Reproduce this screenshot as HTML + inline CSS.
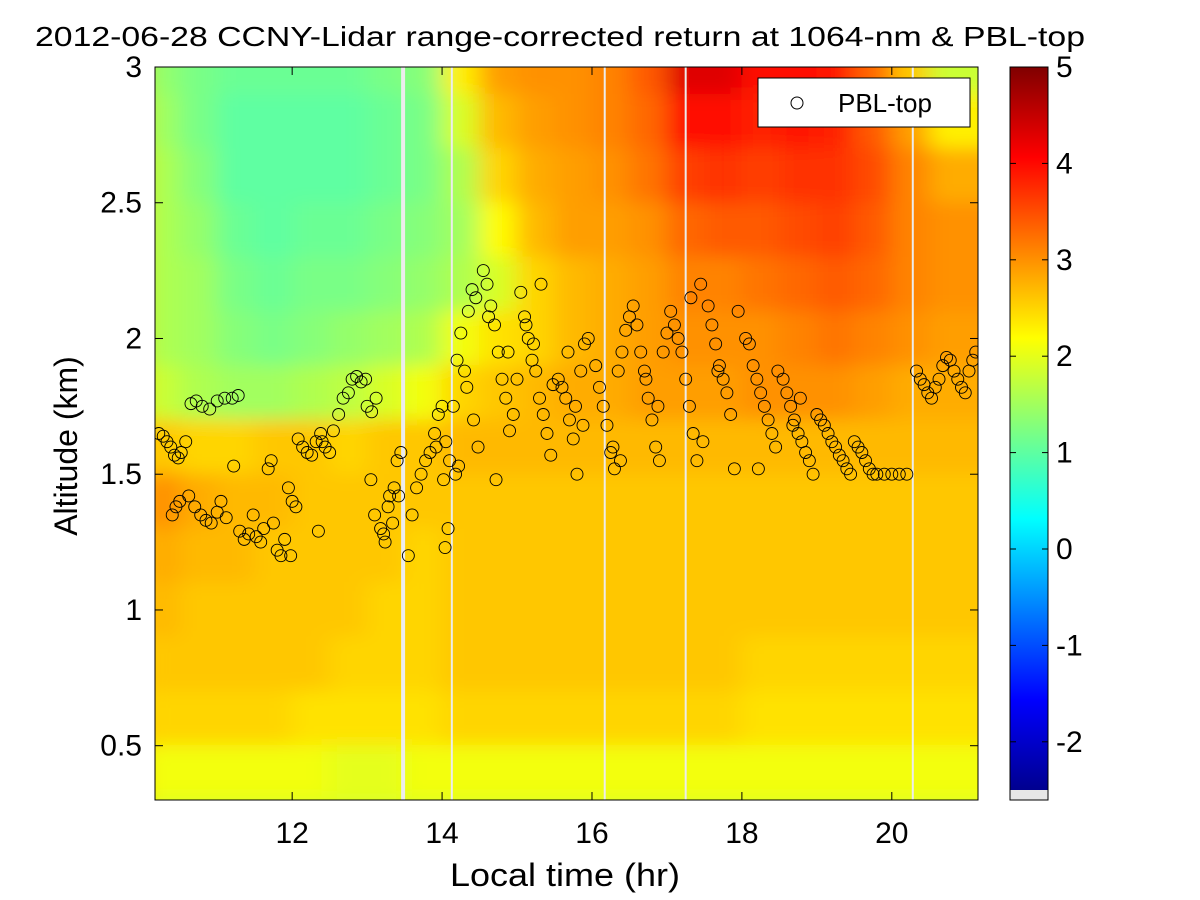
<!DOCTYPE html>
<html><head><meta charset="utf-8"><style>
html,body{margin:0;padding:0;background:#fff;}
svg{display:block;font-family:"Liberation Sans",Arial,sans-serif;}
</style></head><body>
<svg id="chart" width="1200" height="900" viewBox="0 0 1200 900">
<defs>
<clipPath id="plotclip"><rect x="155" y="67" width="823" height="733"/></clipPath>
<filter id="blur" x="-5%" y="-5%" width="110%" height="110%"><feGaussianBlur stdDeviation="12 9"/></filter>
<linearGradient id="jet" x1="0" y1="1" x2="0" y2="0">
<stop offset="0" stop-color="#00008f"/><stop offset="0.125" stop-color="#0000ff"/><stop offset="0.375" stop-color="#00ffff"/><stop offset="0.625" stop-color="#ffff00"/><stop offset="0.875" stop-color="#ff0000"/><stop offset="1" stop-color="#800000"/>
</linearGradient>
</defs>
<text x="35" y="46" font-size="28" textLength="1050" lengthAdjust="spacingAndGlyphs">2012-06-28 CCNY-Lidar range-corrected return at 1064-nm &amp; PBL-top</text>
<g clip-path="url(#plotclip)"><rect x="155" y="67" width="823" height="733" fill="#ffcc00"/><g id="heat" filter="url(#blur)"></g><g id="gaps"></g></g>
<g id="pbl" clip-path="url(#plotclip)"></g>
<rect x="155" y="67" width="823" height="733" fill="none" stroke="#000" stroke-width="1"/>
<g id="axes"></g>
<text x="450" y="886" font-size="32" textLength="230" lengthAdjust="spacingAndGlyphs">Local time (hr)</text>
<text transform="translate(77,446) rotate(-90)" font-size="32" text-anchor="middle">Altitude (km)</text>
<g>
<rect x="758" y="78" width="212" height="49" fill="#fff" stroke="#000"/>
<circle cx="797" cy="103" r="6" fill="none" stroke="#000"/>
<text x="838" y="112" font-size="26">PBL-top</text>
</g>
<g>
<rect x="1010" y="67" width="38" height="723" fill="url(#jet)"/>
<rect x="1010" y="790" width="38" height="10" fill="#e6e6e6"/>
<rect x="1010" y="67" width="38" height="733" fill="none" stroke="#000"/>
<g id="cbticks"></g>
</g>
</svg>
<script>
const xMin=10.17, xMax=21.15, yMin=0.3, yMax=3.0;
const cMin=-2.5, cMax=5;
const xTicks=[12,14,16,18,20];
const yTicks=[0.5,1,1.5,2,2.5,3];
const cTicks=[-2,-1,0,1,2,3,4,5];
const colTimes=[10.25,10.75,11.25,11.75,12.25,12.75,13.25,13.75,14.25,14.75,15.25,15.75,16.25,16.75,17.25,17.75,18.25,18.75,19.25,19.75,20.25,20.75,21.25];
const rowAlts=[3.0,2.8,2.6,2.4,2.2,2.0,1.8,1.6,1.4,1.2,1.0,0.8,0.6,0.4,0.2];
const heatRows=[
[1.4,1.2,1.1,1.1,1.1,1.1,1.2,1.3,2.3,2.9,3.0,3.0,3.1,3.4,4.3,4.3,4.0,4.0,3.9,3.3,2.6,1.8,1.8],
[1.5,1.2,1.0,1.0,1.0,1.0,1.1,1.2,1.9,2.7,2.9,3.0,3.1,3.3,4.0,4.0,3.8,3.9,3.8,3.4,2.9,2.3,2.3],
[1.6,1.3,1.0,1.0,1.0,1.0,1.1,1.2,1.6,2.5,2.8,2.9,3.0,3.2,3.6,3.7,3.6,3.7,3.7,3.5,3.1,2.8,2.8],
[1.6,1.4,1.1,1.0,1.1,1.1,1.2,1.3,1.5,2.2,2.7,2.9,2.9,3.0,3.3,3.4,3.4,3.5,3.6,3.4,3.1,3.0,3.0],
[1.6,1.5,1.2,1.1,1.2,1.2,1.3,1.4,1.6,1.9,2.5,2.7,2.8,2.9,3.1,3.1,3.2,3.3,3.4,3.3,3.1,3.0,3.0],
[1.6,1.5,1.3,1.2,1.3,1.4,1.5,1.6,2.1,2.4,2.5,2.7,2.8,2.9,3.0,3.0,3.0,3.1,3.2,3.1,3.0,2.9,2.9],
[1.8,1.6,1.5,1.5,1.6,1.7,1.9,2.1,2.5,2.6,2.7,2.8,2.8,2.9,2.9,2.9,3.0,3.0,3.0,2.9,2.8,2.8,2.8],
[2.6,2.5,2.5,2.6,2.6,2.5,2.6,2.6,2.7,2.7,2.7,2.7,2.7,2.7,2.7,2.7,2.7,2.7,2.7,2.7,2.7,2.7,2.7],
[3.0,2.8,2.7,2.7,2.6,2.6,2.6,2.6,2.6,2.6,2.6,2.6,2.6,2.6,2.6,2.6,2.6,2.6,2.6,2.6,2.6,2.6,2.6],
[2.8,2.7,2.7,2.6,2.6,2.6,2.6,2.5,2.6,2.6,2.6,2.6,2.6,2.6,2.6,2.6,2.6,2.6,2.6,2.6,2.6,2.6,2.6],
[2.7,2.6,2.6,2.6,2.6,2.6,2.5,2.5,2.6,2.6,2.6,2.6,2.6,2.6,2.6,2.6,2.6,2.6,2.6,2.6,2.6,2.6,2.6],
[2.6,2.6,2.6,2.6,2.6,2.5,2.5,2.5,2.6,2.6,2.6,2.6,2.6,2.6,2.6,2.6,2.5,2.5,2.5,2.5,2.5,2.5,2.5],
[2.5,2.5,2.5,2.5,2.4,2.4,2.4,2.4,2.5,2.5,2.5,2.5,2.5,2.5,2.5,2.5,2.4,2.4,2.4,2.4,2.4,2.4,2.4],
[2.1,2.1,2.1,2.1,2.1,2.0,2.0,2.1,2.1,2.1,2.1,2.1,2.1,2.1,2.1,2.1,2.1,2.1,2.1,2.1,2.1,2.1,2.1],
[1.9,1.9,1.9,1.9,1.9,1.9,1.9,1.9,1.9,1.9,1.9,1.9,1.9,1.9,1.9,1.9,1.9,1.9,1.9,1.9,1.9,1.9,1.9]
];
const gapTimes=[13.48,14.13,16.17,17.25,20.28];
const pblTime=[10.22,10.28,10.33,10.38,10.43,10.48,10.52,10.58,10.40,10.45,10.50,
10.65,10.72,10.80,10.90,11.00,11.10,10.62,10.70,10.78,10.85,10.92,11.00,11.05,11.12,
11.20,11.28,11.22,11.30,11.36,11.42,11.48,
11.52,11.58,11.62,11.68,11.72,11.75,11.80,11.85,11.90,11.95,12.00,12.05,11.98,
12.08,12.14,12.20,12.26,12.32,12.38,12.44,12.50,12.40,12.35,
12.55,12.62,12.68,12.75,12.80,12.86,12.92,12.98,
13.00,13.06,13.12,13.05,13.10,13.18,13.24,13.30,13.36,13.40,13.45,13.28,13.34,13.22,13.42,
13.55,13.60,13.66,13.72,13.78,13.84,13.90,13.95,14.00,14.05,14.10,14.02,13.92,14.08,14.04,
14.15,14.20,14.25,14.30,14.35,14.40,14.45,14.33,14.42,14.22,14.18,14.48,
14.55,14.60,14.65,14.70,14.75,14.80,14.85,14.90,14.95,14.72,14.62,14.88,15.00,
15.05,15.10,15.15,15.20,15.25,15.30,15.35,15.40,15.45,15.12,15.22,15.32,15.48,
15.55,15.60,15.65,15.70,15.75,15.80,15.85,15.90,15.95,15.68,15.78,15.88,
16.05,16.10,16.15,16.20,16.25,16.30,16.35,16.40,16.45,16.50,16.28,16.38,
16.55,16.60,16.65,16.70,16.75,16.80,16.85,16.90,16.95,17.00,16.72,16.88,
17.05,17.10,17.15,17.20,17.25,17.30,17.35,17.40,17.32,17.45,17.48,
17.55,17.60,17.65,17.70,17.75,17.80,17.85,17.68,17.90,17.95,
18.05,18.10,18.15,18.20,18.25,18.30,18.35,18.40,18.45,18.22,18.48,
18.55,18.60,18.65,18.70,18.75,18.80,18.85,18.90,18.95,18.68,18.78,
19.00,19.05,19.10,19.15,19.20,19.25,19.30,19.35,19.40,19.45,
19.50,19.55,19.60,19.65,19.70,19.75,19.80,19.90,20.00,20.10,20.20,
20.33,20.38,20.43,20.48,20.53,20.58,20.63,20.68,20.73,20.78,20.83,20.88,20.93,20.98,21.03,21.08,21.12];
const pblAlt=[1.65,1.64,1.62,1.60,1.57,1.56,1.58,1.62,1.35,1.38,1.40,
1.76,1.77,1.75,1.74,1.77,1.78,1.42,1.38,1.35,1.33,1.32,1.36,1.40,1.34,
1.78,1.79,1.53,1.29,1.26,1.28,1.35,
1.27,1.25,1.30,1.52,1.55,1.32,1.22,1.20,1.26,1.45,1.40,1.38,1.20,
1.63,1.60,1.58,1.57,1.62,1.65,1.60,1.58,1.62,1.29,
1.66,1.72,1.78,1.80,1.85,1.86,1.84,1.85,
1.75,1.73,1.78,1.48,1.35,1.30,1.25,1.42,1.45,1.55,1.58,1.38,1.32,1.28,1.42,
1.20,1.35,1.45,1.50,1.55,1.58,1.65,1.72,1.75,1.62,1.55,1.48,1.60,1.30,1.23,
1.75,1.92,2.02,1.88,2.10,2.18,2.15,1.82,1.70,1.53,1.50,1.60,
2.25,2.20,2.12,2.05,1.95,1.85,1.78,1.66,1.72,1.48,2.08,1.95,1.85,
2.17,2.08,2.00,1.92,1.88,1.78,1.72,1.65,1.57,2.05,1.98,2.20,1.83,
1.85,1.82,1.78,1.70,1.63,1.50,1.88,1.98,2.00,1.95,1.75,1.68,
1.90,1.82,1.75,1.68,1.58,1.52,1.88,1.95,2.03,2.08,1.60,1.55,
2.12,2.05,1.95,1.88,1.78,1.70,1.60,1.55,1.95,2.02,1.85,1.75,
2.10,2.05,2.00,1.95,1.85,1.75,1.65,1.55,2.15,2.20,1.62,
2.12,2.05,1.98,1.90,1.85,1.80,1.72,1.88,1.52,2.10,
2.00,1.98,1.90,1.85,1.80,1.75,1.70,1.65,1.60,1.52,1.88,
1.85,1.80,1.75,1.70,1.65,1.62,1.58,1.55,1.50,1.68,1.78,
1.72,1.70,1.68,1.65,1.62,1.60,1.57,1.55,1.52,1.50,
1.62,1.60,1.58,1.55,1.52,1.50,1.50,1.50,1.50,1.50,1.50,
1.88,1.85,1.83,1.80,1.78,1.82,1.85,1.90,1.93,1.92,1.88,1.85,1.82,1.80,1.88,1.92,1.95];

const PX0=155,PX1=978,PY0=67,PY1=800;
const xs=t=>PX0+(t-xMin)/(xMax-xMin)*(PX1-PX0);
const ys=a=>PY1-(a-yMin)/(yMax-yMin)*(PY1-PY0);
const cs=v=>67+(cMax-v)/(cMax-cMin)*723;
const NS='http://www.w3.org/2000/svg';
function mk(tag,attrs,parent){const e=document.createElementNS(NS,tag);for(const k in attrs)e.setAttribute(k,attrs[k]);parent.appendChild(e);return e;}
function cl(x){return Math.max(0,Math.min(1,x));}
function jet(v){const t=(v-cMin)/(cMax-cMin);
const r=cl(1.5-Math.abs(4*t-3)),g=cl(1.5-Math.abs(4*t-2)),b=cl(1.5-Math.abs(4*t-1));
return `rgb(${Math.round(r*255)},${Math.round(g*255)},${Math.round(b*255)})`;}
const heat=document.getElementById('heat');
const dt=0.5, da=0.2;
heatRows.forEach((row,ri)=>{row.forEach((v,ci)=>{
 const x0=xs(colTimes[ci]-dt/2),x1=xs(colTimes[ci]+dt/2);
 const y0=ys(rowAlts[ri]+da/2),y1=ys(rowAlts[ri]-da/2);
 const r=mk('rect',{x:x0-0.5,y:y0-0.5,width:x1-x0+1,height:y1-y0+1,fill:jet(v)},heat);
 
 
});});
const gaps=document.getElementById('gaps');
gapTimes.forEach((t,i)=>{
 const r=mk('rect',{x:xs(t)-(i===0?2:1),y:PY0,width:i===0?4:2,height:PY1-PY0,fill:'#ececec'},gaps);
 
 
});
const pbl=document.getElementById('pbl');
pblTime.forEach((t,i)=>{
 const c=mk('circle',{cx:xs(t),cy:ys(pblAlt[i]),r:6,fill:'none',stroke:'#000','stroke-width':0.9},pbl);
 
 
});
const axes=document.getElementById('axes');
xTicks.forEach(t=>{const x=xs(t);
 mk('line',{x1:x,y1:PY1,x2:x,y2:PY1-8,stroke:'#000'},axes);
 mk('line',{x1:x,y1:PY0,x2:x,y2:PY0+8,stroke:'#000'},axes);
 const tx=mk('text',{x:x,y:843,'font-size':30,'text-anchor':'middle'},axes);tx.textContent=t;
 
 
});
yTicks.forEach(a=>{const y=ys(a);
 mk('line',{x1:PX0,y1:y,x2:PX0+8,y2:y,stroke:'#000'},axes);
 mk('line',{x1:PX1,y1:y,x2:PX1-8,y2:y,stroke:'#000'},axes);
 const tx=mk('text',{x:142,y:y+10,'font-size':30,'text-anchor':'end'},axes);tx.textContent=a;
 
 
});
const cb=document.getElementById('cbticks');
cTicks.forEach(v=>{const y=cs(v);
 mk('line',{x1:1010,y1:y,x2:1016,y2:y,stroke:'#000'},cb);
 mk('line',{x1:1048,y1:y,x2:1042,y2:y,stroke:'#000'},cb);
 const tx=mk('text',{x:1056,y:y+10,'font-size':30},cb);tx.textContent=v;
 
 
});
</script>
</body></html>
